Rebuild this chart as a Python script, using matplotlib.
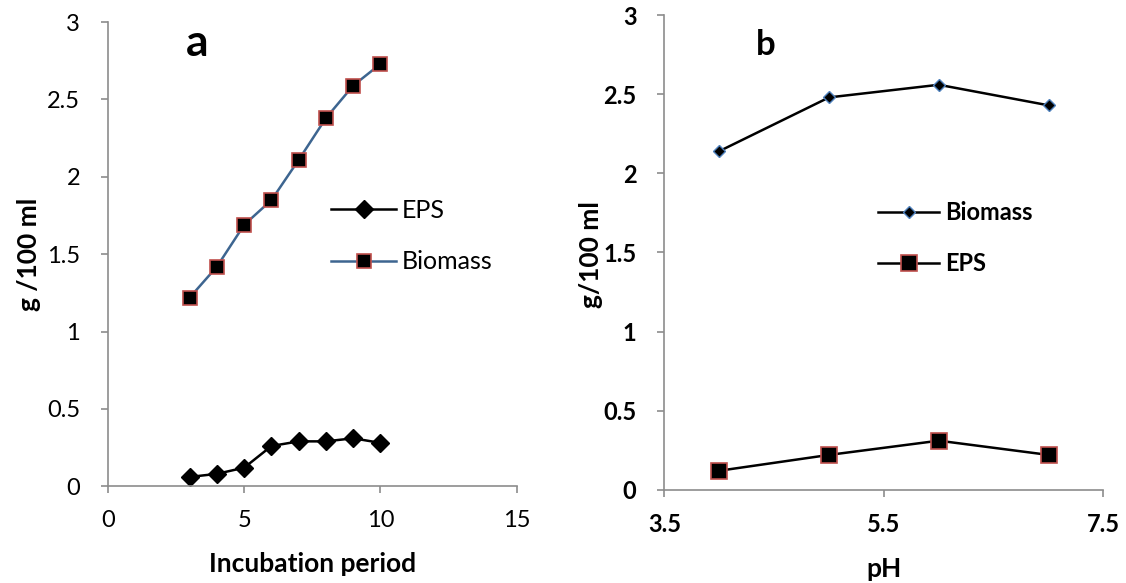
import matplotlib.pyplot as plt

# panel a: incubation period
days = [3, 4, 5, 6, 7, 8, 9, 10]
eps_a = [0.06, 0.08, 0.12, 0.26, 0.29, 0.29, 0.31, 0.28]
biomass_a = [1.22, 1.42, 1.69, 1.85, 2.11, 2.38, 2.59, 2.73]

# panel b: pH
ph = [4, 5, 6, 7]
biomass_b = [2.14, 2.48, 2.56, 2.43]
eps_b = [0.12, 0.22, 0.31, 0.22]

plt.rcParams['font.family'] = ['Lato', 'DejaVu Sans']

fig = plt.figure(figsize=(11.26, 5.83), dpi=100)
ax1 = fig.add_axes([0.0959, 0.166, 0.363, 0.796])
ax2 = fig.add_axes([0.590, 0.160, 0.390, 0.814])

for ax in (ax1, ax2):
    for s in ('top', 'right'):
        ax.spines[s].set_visible(False)
    for s in ('left', 'bottom'):
        ax.spines[s].set_color('#8c8c8c')
        ax.spines[s].set_linewidth(1.2)
    ax.tick_params(direction='out', length=5, width=1.2, color='#8c8c8c', labelsize=17)
    ax.tick_params(axis='y', pad=15)
    ax.tick_params(axis='x', pad=12)
    ax.set_ylim(0, 3)
    ax.set_yticks([0, 0.5, 1, 1.5, 2, 2.5, 3])
    ax.set_yticklabels(['0', '0.5', '1', '1.5', '2', '2.5', '3'])

# panel a
ax1.plot(days, eps_a, color='black', lw=1.8, marker='D', ms=9,
         mfc='black', mec='black', label='EPS')
ax1.plot(days, biomass_a, color='#3d6590', lw=1.8, marker='s', ms=10,
         mfc='black', mec='#c0504d', mew=1.2, label='Biomass')
ax1.set_xlim(0, 15)
ax1.set_xticks([0, 5, 10, 15])
ax1.set_xlabel('Incubation period', fontsize=19, fontweight='bold')
ax1.xaxis.set_label_coords(0.5, -0.142)
ax1.set_ylabel('g /100 ml', fontsize=19, fontweight='bold')
ax1.yaxis.set_label_coords(-0.163, 0.5)
ax1.text(0.218, 0.955, 'a', transform=ax1.transAxes, fontsize=32, fontweight='bold',
         ha='center', va='center')
ax1.legend(loc='center left', bbox_to_anchor=(331 / 1126, 1 - 236 / 583),
           bbox_transform=fig.transFigure, frameon=False, fontsize=18,
           handlelength=2.6, handletextpad=0.25, labelspacing=1.15, borderpad=0,
           borderaxespad=0)

# panel b
ax2.plot(ph, biomass_b, color='black', lw=1.8, marker='D', ms=6,
         mfc='black', mec='#4f81bd', label='Biomass')
ax2.plot(ph, eps_b, color='black', lw=1.8, marker='s', ms=12,
         mfc='black', mec='#c0504d', mew=1.2, label='EPS')
ax2.set_xlim(3.5, 7.5)
ax2.set_xticks([3.5, 5.5, 7.5])
ax2.set_xticklabels(['3.5', '5.5', '7.5'])
for lab in ax2.get_xticklabels() + ax2.get_yticklabels():
    lab.set_fontweight('bold')
ax2.set_xlabel('pH', fontsize=19, fontweight='bold')
ax2.xaxis.set_label_coords(0.5, -0.142)
ax2.set_ylabel('g/100 ml', fontsize=19, fontweight='bold')
ax2.yaxis.set_label_coords(-0.139, 0.495)
ax2.text(0.23, 0.937, 'b', transform=ax2.transAxes, fontsize=25, fontweight='bold',
         ha='center', va='center')
ax2.legend(loc='center left', bbox_to_anchor=(878 / 1126, 1 - 238 / 583),
           bbox_transform=fig.transFigure, frameon=False,
           handlelength=2.6, handletextpad=0.25, labelspacing=1.2, borderpad=0,
           borderaxespad=0, prop={'weight': 'bold', 'size': 17})

fig.savefig('out.png', dpi=100)
